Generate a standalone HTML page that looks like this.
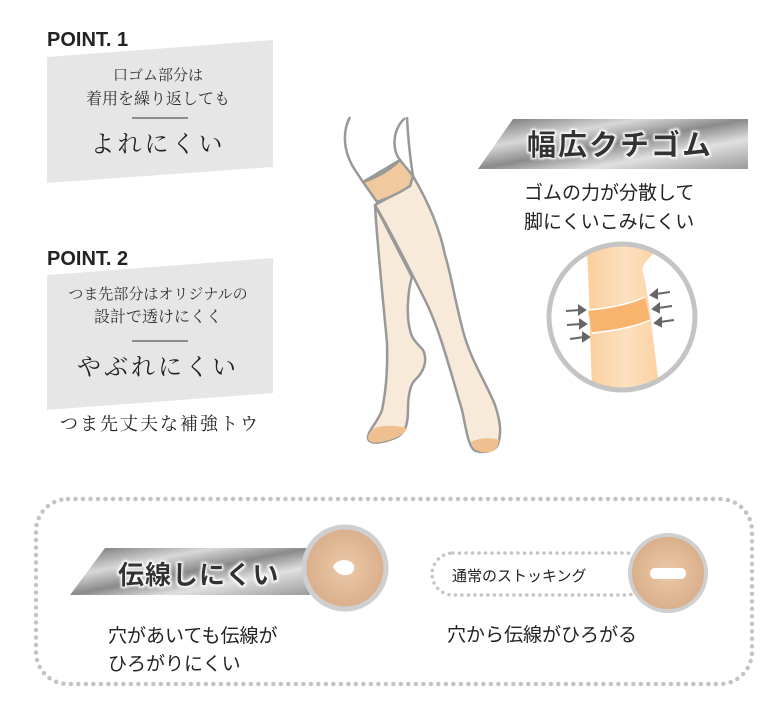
<!DOCTYPE html>
<html><head><meta charset="utf-8"><style>
body{margin:0;background:#fff;}
svg{display:block;font-family:"Liberation Sans","Noto Sans CJK JP",sans-serif;}
</style></head><body>
<svg width="768" height="701" viewBox="0 0 768 701" xmlns="http://www.w3.org/2000/svg">
<defs>
<linearGradient id="silver" x1="0" y1="0" x2="1" y2="1">
<stop offset="0" stop-color="#6a6a6a"/><stop offset="0.3" stop-color="#d8d8d8"/><stop offset="0.5" stop-color="#8a8a8a"/><stop offset="0.7" stop-color="#e0e0e0"/><stop offset="1" stop-color="#9a9a9a"/>
</linearGradient>
<radialGradient id="fab" cx="0.5" cy="0.5" r="0.5"><stop offset="0" stop-color="#ecc9a8"/><stop offset="1" stop-color="#d9ae8a"/></radialGradient>
<linearGradient id="legg" x1="0" y1="0" x2="1" y2="0"><stop offset="0" stop-color="#fbcf9c"/><stop offset="0.5" stop-color="#fde0bf"/><stop offset="1" stop-color="#fbcf9c"/></linearGradient>
<clipPath id="cc"><circle cx="622" cy="317" r="73"/></clipPath>
<filter id="glow"><feMorphology operator="dilate" radius="1.5" in="SourceAlpha" result="d"/><feFlood flood-color="#fff"/><feComposite in2="d" operator="in"/><feGaussianBlur stdDeviation="1"/><feMerge><feMergeNode/><feMergeNode in="SourceGraphic"/></feMerge></filter>
</defs>

<!-- POINT 1 -->
<text x="47" y="46" font-size="20" font-weight="bold" fill="#222">POINT. 1</text>
<polygon points="47,57 273,40 273,167 47,183" fill="#e6e6e6"/>
<text x="158" y="80" font-size="15" fill="#333" text-anchor="middle" font-family="Noto Serif CJK SC,serif">口ゴム部分は</text>
<text x="158" y="104" font-size="16" fill="#333" text-anchor="middle" font-family="Noto Serif CJK SC,serif">着用を繰り返しても</text>
<line x1="132" y1="118" x2="188" y2="118" stroke="#333" stroke-width="1"/>
<text x="158" y="152" font-size="24" fill="#222" text-anchor="middle" letter-spacing="3" font-family="Noto Serif CJK SC,serif">よれにくい</text>

<!-- POINT 2 -->
<text x="47" y="265" font-size="20" font-weight="bold" fill="#222">POINT. 2</text>
<polygon points="47,275 273,258 273,393 47,410" fill="#e6e6e6"/>
<text x="158" y="299" font-size="15" fill="#333" text-anchor="middle" font-family="Noto Serif CJK SC,serif">つま先部分はオリジナルの</text>
<text x="158" y="322" font-size="16" fill="#333" text-anchor="middle" font-family="Noto Serif CJK SC,serif">設計で透けにくく</text>
<line x1="132" y1="341" x2="188" y2="341" stroke="#333" stroke-width="1"/>
<text x="158" y="375" font-size="24" fill="#222" text-anchor="middle" letter-spacing="3" font-family="Noto Serif CJK SC,serif">やぶれにくい</text>
<text x="60" y="430" font-size="18" fill="#222" letter-spacing="2" font-family="Noto Serif CJK SC,serif">つま先丈夫な補強トウ</text>

<!-- legs -->
<g stroke="#999" stroke-width="2.5" fill="#f8ead8" stroke-linejoin="round">
<path d="M350,117 C343,130 342,150 355,170 L363,182 L400,160 C392,150 392,130 405,118" fill="#fff"/>
<path d="M407,117 C408,135 409,150 413,176" fill="none"/>
<path d="M375,205 C377,243 385,320 387,343 C388,380 384,400 382,410 C378,422 368,430 368,438 C369,446 385,442 395,438 C405,434 408,425 408,410 C408,395 410,385 415,380 C424,372 428,360 423,350 C418,344 412,340 410,330 C406,315 408,290 412,277 Z"/>
<path d="M368,438 C369,446 385,442 395,438 C403,435 407,430 407,428 C398,426 385,424 375,428 C370,431 368,435 368,438 Z" fill="#efbf8f" stroke="none"/>
<path d="M375,205 C390,230 410,270 425,300 C440,330 450,370 462,410 C466,428 468,445 474,450 C480,454 495,452 498,444 C502,432 500,420 495,405 C485,380 470,360 462,327 C455,300 450,270 445,255 C440,230 430,205 413,176 L410,186 Z"/>
<path d="M471,442 C474,450 480,454 490,452 C496,451 498,446 499,440 C490,437 478,438 471,442 Z" fill="#efbf8f" stroke="none"/>
<path d="M363,182 C375,178 388,172 400,160 L413,176 L410,186 C398,194 388,198 377,202 Z" fill="#f0c99e"/>
</g>

<!-- 幅広クチゴム -->
<polygon points="513,119 748,119 748,169 478,169" fill="url(#silver)"/>
<text x="620" y="155" font-size="29" font-weight="bold" fill="#333" text-anchor="middle" filter="url(#glow)" letter-spacing="2">幅広クチゴム</text>
<text x="524" y="199" font-size="19" fill="#222">ゴムの力が分散して</text>
<text x="524" y="228" font-size="19" fill="#222">脚にくいこみにくい</text>

<!-- circle detail -->
<circle cx="622" cy="317" r="73" fill="#fff"/>
<g clip-path="url(#cc)">
<path d="M587,240 L665,240 C655,255 640,262 643,273 C648,290 652,330 658,377 L660,400 L593,400 C590,360 590,300 587,253 Z" fill="url(#legg)"/>
<path d="M588,310 C610,308 630,304 645,297 L650,320 C635,327 612,331 592,333 Z" fill="#f8b36d"/>
<path d="M588,310 C610,308 630,304 645,297 M592,333 C612,331 635,327 650,320" stroke="#fff" stroke-width="1.5" fill="none"/>
</g>
<circle cx="622" cy="317" r="73" fill="none" stroke="#c4c4c4" stroke-width="5"/>
<g stroke="#666" stroke-width="2" fill="#666">
<line x1="566" y1="311" x2="580" y2="310"/><polygon points="585,310 579,306 579,314"/>
<line x1="567" y1="325" x2="581" y2="324"/><polygon points="586,324 580,320 580,328"/>
<line x1="570" y1="339" x2="584" y2="337"/><polygon points="589,337 583,333 583,341"/>
<line x1="670" y1="292" x2="656" y2="294"/><polygon points="651,295 657,290 657,298"/>
<line x1="672" y1="306" x2="658" y2="308"/><polygon points="653,309 659,304 659,312"/>
<line x1="674" y1="320" x2="660" y2="322"/><polygon points="655,323 661,318 661,326"/>
</g>

<!-- bottom box -->
<rect x="36" y="499" width="716" height="185" rx="32" fill="none" stroke="#c4c4c4" stroke-width="4.5" stroke-linecap="round" stroke-dasharray="0 7.5"/>
<polygon points="105,548 310,548 310,595 70,595" fill="url(#silver)"/>
<text x="118" y="584" font-size="26" font-weight="bold" fill="#333" filter="url(#glow)" letter-spacing="1">伝線しにくい</text>
<circle cx="345" cy="568" r="41" fill="url(#fab)" stroke="#cfcfcf" stroke-width="5"/>
<path d="M333,567 C336,558 352,558 354,566 C356,576 340,580 333,567 Z" fill="#fff"/>
<text x="108" y="642" font-size="19" fill="#222">穴があいても伝線が</text>
<text x="108" y="670" font-size="19" fill="#222">ひろがりにくい</text>

<rect x="432" y="553" width="215" height="42" rx="21" fill="none" stroke="#c4c4c4" stroke-width="3.5" stroke-linecap="round" stroke-dasharray="0 6.5"/>
<text x="452" y="581" font-size="15" fill="#222">通常のストッキング</text>
<circle cx="668" cy="573" r="38" fill="url(#fab)" stroke="#cfcfcf" stroke-width="4"/>
<rect x="650" y="568" width="36" height="11" rx="5" fill="#fff"/>
<text x="447" y="641" font-size="19" fill="#222">穴から伝線がひろがる</text>
</svg>
</body></html>
